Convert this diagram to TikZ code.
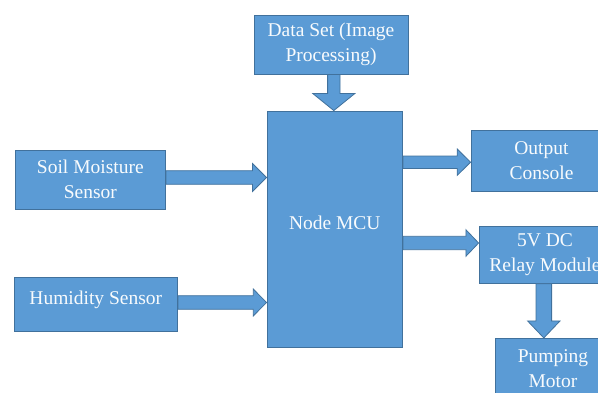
\documentclass[tikz,border=0pt]{standalone}
\usepackage{fontspec}
\setmainfont{Liberation Serif}
\usetikzlibrary{calc}
\definecolor{boxfill}{HTML}{5B9BD5}
\definecolor{boxline}{HTML}{41719C}
\tikzset{
  blk/.style={draw=boxline, fill=boxfill, line width=0.8pt, inner sep=0pt,
    text=white!96!boxfill, align=center, font=\fontsize{19.5}{25}\selectfont},
  arr/.style={draw=boxline, fill=boxfill, line width=0.8pt, line join=miter}
}
% horizontal block arrow: source, target, centre y, half shaft, half head, head length
\newcommand\HArr[6]{%
  \draw[arr] (#1.east |- 0,{#3-#4})
    -- ($(#2.west |- 0,{#3-#4})+(-#6,0)$)
    -- ($(#2.west |- 0,{#3-#5})+(-#6,0)$)
    -- (#2.west |- 0,#3)
    -- ($(#2.west |- 0,{#3+#5})+(-#6,0)$)
    -- ($(#2.west |- 0,{#3+#4})+(-#6,0)$)
    -- (#1.east |- 0,{#3+#4}) -- cycle;}
% vertical block arrow: source, target, centre x, half shaft, half head, head length
\newcommand\VArr[6]{%
  \draw[arr] (#1.south -| {#3-#4},0)
    -- ($(#2.north -| {#3-#4},0)+(0,-#6)$)
    -- ($(#2.north -| {#3-#5},0)+(0,-#6)$)
    -- (#2.north -| #3,0)
    -- ($(#2.north -| {#3+#5},0)+(0,-#6)$)
    -- ($(#2.north -| {#3+#4},0)+(0,-#6)$)
    -- (#1.south -| {#3+#4},0) -- cycle;}
\begin{document}
\begin{tikzpicture}[x=1pt,y=-1pt]
\useasboundingbox (0,0) rectangle (598,392);
\clip (0,0) rectangle (598,392);
\node[blk, minimum width=154pt, minimum height=59pt] (data) at (331,44.5) {Data Set (Image\\Processing)};
\node[blk, minimum width=135.7pt, minimum height=236.7pt, text height=13pt, text depth=13pt] (mcu) at (334.8,229.3) {Node MCU};
\node[blk, minimum width=150.7pt, minimum height=59pt] (soil) at (90.3,179.5) {Soil Moisture\\Sensor};
\node[blk, minimum width=163.7pt, minimum height=53.6pt, text height=13pt, text depth=13pt] (hum) at (95.8,304.5) {Humidity Sensor};
\node[blk, minimum width=141pt, minimum height=61.7pt] (out) at (541.5,161) {Output\\Console};
\node[blk, minimum width=132pt, minimum height=56.6pt] (relay) at (545,255) {5V DC\\Relay Module};
\node[blk, minimum width=114.6pt, minimum height=59.7pt] (pump) at (553,368.2) {Pumping\\Motor};
\VArr{data}{mcu}{333.8}{6.2}{21}{17}
\HArr{soil}{mcu}{177.5}{6.8}{14}{14}
\HArr{hum}{mcu}{302.5}{6.8}{13.5}{13.3}
\HArr{mcu}{out}{162.2}{6.2}{13.2}{13.4}
\HArr{mcu}{relay}{243}{6.7}{13.3}{12.7}
\VArr{relay}{pump}{543.8}{7.8}{16.2}{17}
\end{tikzpicture}
\end{document}
